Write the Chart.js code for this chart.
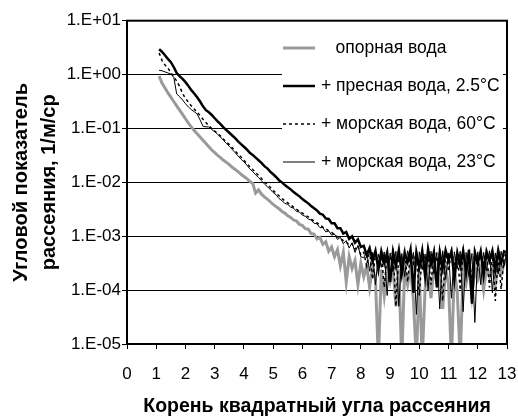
<!DOCTYPE html>
<html>
<head>
<meta charset="utf-8">
<script src="https://cdn.jsdelivr.net/npm/chart.js@4.4.1/dist/chart.umd.min.js"></script>
<style>
    html, body { margin: 0; padding: 0; background: #fff; }
    #chart { display: block; }
</style>
</head>
<body>
<canvas id="chart" width="518" height="418"></canvas>
<script>
// Square root of the scattering angle (x axis)
const sqrtAngle = [
    1.1, 1.2, 1.3, 1.4, 1.5, 1.6, 1.7, 1.8, 1.9, 2.0,
    2.1, 2.2, 2.3, 2.4, 2.5, 2.6, 2.7, 2.8, 2.9, 3.0,
    3.1, 3.2, 3.3, 3.4, 3.5, 3.6, 3.7, 3.8, 3.9, 4.0,
    4.1, 4.2, 4.3, 4.4, 4.5, 4.6, 4.7, 4.8, 4.9, 5.0,
    5.1, 5.2, 5.3, 5.4, 5.5, 5.6, 5.7, 5.8, 5.9, 6.0,
    6.1, 6.2, 6.3, 6.4, 6.5, 6.6, 6.7, 6.8, 6.9, 7.0,
    7.1, 7.2, 7.3, 7.4, 7.5, 7.6, 7.7, 7.8, 7.9, 8.0,
    8.1, 8.2, 8.3, 8.4, 8.5, 8.6, 8.7, 8.8, 8.9, 9.0,
    9.1, 9.2, 9.3, 9.4, 9.5, 9.6, 9.7, 9.8, 9.9, 10.0,
    10.1, 10.2, 10.3, 10.4, 10.5, 10.6, 10.7, 10.8, 10.9, 11.0,
    11.1, 11.2, 11.3, 11.4, 11.5, 11.6, 11.7, 11.8, 11.9, 12.0,
    12.1, 12.2, 12.3, 12.4, 12.5, 12.6, 12.7, 12.8, 12.9, 13.0
];

// Series values as decimal exponents (value = 10^exp)
const refWaterExp = [
    -0.03, -0.16, -0.25, -0.34, -0.42, -0.50, -0.58, -0.66, -0.74, -0.82,
    -0.90, -0.97, -1.04, -1.10, -1.16, -1.22, -1.28, -1.34, -1.40, -1.45,
    -1.50, -1.54, -1.59, -1.63, -1.67, -1.72, -1.76, -1.80, -1.85, -1.89,
    -1.93, -1.98, -2.02, -2.20, -2.14, -2.22, -2.27, -2.31, -2.36, -2.41,
    -2.45, -2.49, -2.54, -2.57, -2.62, -2.65, -2.70, -2.72, -2.78, -2.80,
    -2.86, -2.87, -2.95, -2.96, -3.05, -3.02, -3.15, -3.10, -3.28, -3.20,
    -3.38, -3.25, -3.55, -3.30, -3.85, -3.38, -3.60, -3.45, -3.90, -3.50,
    -3.75, -3.55, -3.95, -3.58, -3.80, -5.30, -3.62, -4.10, -3.60, -3.85,
    -3.58, -4.30, -3.62, -5.30, -3.60, -3.90, -3.58, -4.20, -5.30, -3.70,
    -5.30, -3.95, -3.60, -4.15, -3.58, -3.85, -3.61, -4.35, -3.60, -3.90,
    -5.30, -3.62, -4.05, -5.30, -3.60, -3.88, -3.58, -4.10, -3.62, -3.80,
    -3.60, -4.00, -3.58, -3.75, -3.55, -3.90, -3.50, -3.70, -3.52, -3.40
];
const freshWaterExp = [
    0.47, 0.42, 0.36, 0.29, 0.23, 0.14, 0.03, -0.03, -0.08, -0.14,
    -0.21, -0.29, -0.35, -0.42, -0.50, -0.59, -0.66, -0.70, -0.75, -0.81,
    -0.87, -0.92, -0.98, -1.03, -1.08, -1.13, -1.18, -1.24, -1.29, -1.34,
    -1.39, -1.45, -1.49, -1.54, -1.59, -1.64, -1.70, -1.74, -1.80, -1.85,
    -1.90, -1.96, -2.00, -2.05, -2.09, -2.13, -2.18, -2.22, -2.26, -2.31,
    -2.35, -2.39, -2.44, -2.48, -2.52, -2.58, -2.60, -2.67, -2.68, -2.76,
    -2.76, -2.85, -2.85, -2.95, -2.92, -3.05, -3.00, -3.12, -3.06, -3.20,
    -3.18, -3.35, -3.22, -3.45, -3.27, -3.62, -3.28, -3.50, -3.30, -3.85,
    -3.29, -3.55, -3.26, -3.70, -3.31, -3.48, -3.25, -4.05, -3.30, -3.58,
    -3.27, -3.75, -3.24, -3.52, -3.29, -3.95, -3.30, -3.60, -3.26, -3.45,
    -3.28, -3.80, -3.31, -3.55, -3.27, -3.68, -3.25, -4.25, -3.30, -3.50,
    -3.28, -3.72, -3.29, -3.46, -3.27, -3.62, -3.26, -3.50, -3.28, -3.30
];
const sea60Exp = [
    0.40, 0.26, 0.18, 0.12, 0.04, -0.04, -0.12, -0.22, -0.35, -0.44,
    -0.51, -0.58, -0.64, -0.70, -0.76, -0.83, -0.89, -0.95, -1.00, -1.05,
    -1.09, -1.14, -1.20, -1.25, -1.30, -1.36, -1.42, -1.48, -1.53, -1.59,
    -1.65, -1.71, -1.76, -1.82, -1.87, -1.93, -1.99, -2.04, -2.09, -2.15,
    -2.20, -2.25, -2.30, -2.34, -2.38, -2.42, -2.46, -2.50, -2.54, -2.57,
    -2.61, -2.64, -2.68, -2.72, -2.75, -2.79, -2.83, -2.86, -2.90, -2.93,
    -2.97, -3.01, -3.04, -3.08, -3.11, -3.16, -3.14, -3.24, -3.18, -3.35,
    -3.30, -3.55, -3.27, -3.80, -3.31, -3.50, -3.29, -3.95, -3.32, -3.45,
    -3.28, -4.30, -3.30, -3.60, -3.27, -3.85, -3.31, -3.50, -3.29, -4.10,
    -3.30, -3.55, -3.32, -3.90, -3.28, -3.48, -3.30, -4.20, -3.31, -3.65,
    -3.27, -3.52, -3.30, -4.00, -3.29, -3.58, -3.31, -3.85, -3.28, -3.62,
    -3.30, -3.50, -3.28, -3.95, -3.30, -4.20, -3.35, -3.98, -3.40, -3.28
];
const sea23Exp = [
    0.08, 0.07, 0.05, 0.03, 0.01, -0.05, -0.36, -0.41, -0.47, -0.54,
    -0.60, -0.65, -0.69, -0.73, -0.84, -0.96, -0.97, -0.97, -1.02, -1.06,
    -1.11, -1.16, -1.22, -1.28, -1.33, -1.39, -1.45, -1.51, -1.57, -1.62,
    -1.68, -1.75, -1.80, -1.86, -1.91, -1.97, -2.03, -2.08, -2.13, -2.19,
    -2.23, -2.30, -2.34, -2.39, -2.41, -2.46, -2.48, -2.54, -2.55, -2.61,
    -2.63, -2.68, -2.70, -2.76, -2.77, -2.84, -2.84, -2.92, -2.90, -2.98,
    -2.96, -3.06, -3.02, -3.14, -3.08, -3.22, -3.12, -3.30, -3.17, -3.38,
    -3.40, -3.28, -3.65, -3.30, -3.90, -3.33, -3.58, -3.29, -4.10, -3.31,
    -3.66, -3.28, -4.30, -3.32, -3.75, -3.27, -3.52, -3.30, -4.45, -3.29,
    -3.62, -3.33, -4.00, -3.28, -3.70, -3.30, -4.35, -3.27, -3.80, -3.31,
    -4.15, -3.29, -3.60, -3.28, -4.40, -3.30, -3.75, -3.32, -4.60, -3.29,
    -3.90, -3.30, -3.64, -3.27, -4.05, -3.31, -3.70, -3.28, -3.55, -3.26
];

const seriesLabels = [
    '   опорная вода',
    '+ пресная вода, 2.5°C',
    '+ морская вода, 60°C',
    '+ морская вода, 23°C'
];

// Y axis ticks (decades) and their labels
const yTickValues = [1e-5, 1e-4, 1e-3, 1e-2, 1e-1, 1e0, 1e1];
const yTickLabels = ['1.E-05', '1.E-04', '1.E-03', '1.E-02', '1.E-01', '1.E+00', '1.E+01'];

const xTitle = 'Корень квадратный угла рассеяния';
const yTitle = ['Угловой показатель', 'рассеяния, 1/м/ср'];

function toPoints(exps) {
    return sqrtAngle.map((x, i) => ({ x: x, y: Math.pow(10, exps[i]) }));
}

/**
 * Legend inside the plot area plus the plot frame
 */
const legendAndFrame = {
    id: 'legendAndFrame',
    afterDatasetsDraw(chart) {
        const ctx = chart.ctx;
        const area = chart.chartArea;
        ctx.save();

        // white legend box hides the grid lines behind it
        ctx.fillStyle = '#fff';
        ctx.fillRect(282, 28, area.right - 4 - 282, 150);

        ctx.font = '17.5px "Liberation Sans", Arial, sans-serif';
        ctx.textBaseline = 'middle';
        chart.data.datasets.forEach((ds, i) => {
            const y = 48 + i * 38;
            ctx.beginPath();
            ctx.strokeStyle = ds.borderColor;
            ctx.lineWidth = ds.borderWidth;
            ctx.setLineDash(ds.borderDash || []);
            ctx.moveTo(283, y);
            ctx.lineTo(315, y);
            ctx.stroke();
            ctx.setLineDash([]);
            ctx.fillStyle = '#000';
            ctx.fillText(ds.label, 321, y);
        });

        // plot frame
        ctx.lineWidth = 2;
        ctx.strokeStyle = '#000';
        ctx.strokeRect(area.left, area.top, area.right - area.left, area.bottom - area.top);
        ctx.restore();
    }
};

Chart.defaults.font.family = '"Liberation Sans", Arial, sans-serif';
Chart.defaults.color = '#000';

const ctx = document.getElementById('chart').getContext('2d');
window.scatterChart = new Chart(ctx, {
    type: 'line',
    data: {
        datasets: [
            {
                label: seriesLabels[0],
                data: toPoints(refWaterExp),
                borderColor: '#9a9a9a',
                borderWidth: 3,
                order: 4
            },
            {
                label: seriesLabels[1],
                data: toPoints(freshWaterExp),
                borderColor: '#000',
                borderWidth: 2.5,
                order: 1
            },
            {
                label: seriesLabels[2],
                data: toPoints(sea60Exp),
                borderColor: '#000',
                borderWidth: 1.5,
                borderDash: [3, 3],
                order: 2
            },
            {
                label: seriesLabels[3],
                data: toPoints(sea23Exp),
                borderColor: '#000',
                borderWidth: 1,
                order: 3
            }
        ]
    },
    options: {
        responsive: false,
        animation: false,
        elements: {
            point: { radius: 0 },
            line: { tension: 0, fill: false }
        },
        layout: {
            padding: { left: 0, right: 11, top: 20.7, bottom: 0 }
        },
        plugins: {
            legend: { display: false },
            tooltip: { enabled: false }
        },
        scales: {
            x: {
                type: 'linear',
                min: 0,
                max: 13,
                ticks: {
                    stepSize: 1,
                    padding: 15,
                    font: { size: 17 },
                    color: '#000',
                    maxRotation: 0
                },
                grid: {
                    drawOnChartArea: false,
                    drawTicks: true,
                    tickLength: 5,
                    tickColor: '#000',
                    tickWidth: 1
                },
                border: { display: false },
                title: {
                    display: true,
                    text: xTitle,
                    font: { size: 19.5, weight: 'bold', lineHeight: 1.2 },
                    color: '#000',
                    padding: { top: 0, bottom: 0 }
                },
                afterFit: function(scale) {
                    scale.height = 74;
                    scale.paddingLeft = 0;
                    scale.paddingRight = 0;
                }
            },
            y: {
                type: 'logarithmic',
                min: 1e-5,
                max: 10,
                afterBuildTicks: function(scale) {
                    scale.ticks = yTickValues.map(v => ({ value: v }));
                },
                ticks: {
                    padding: 1,
                    font: { size: 17 },
                    color: '#000',
                    autoSkip: false,
                    callback: function(value) {
                        const idx = yTickValues.findIndex(v => Math.abs(Math.log10(v) - Math.log10(value)) < 1e-6);
                        return idx >= 0 ? yTickLabels[idx] : '';
                    }
                },
                grid: {
                    color: '#000',
                    lineWidth: 1,
                    drawTicks: true,
                    tickLength: 5,
                    tickColor: '#000'
                },
                border: { display: false },
                title: {
                    display: true,
                    text: yTitle,
                    font: { size: 20, weight: 'bold', lineHeight: 1.41 },
                    color: '#000',
                    padding: { top: 7, bottom: 0 }
                },
                afterFit: function(scale) {
                    scale.width = 127;
                    scale.paddingTop = 0;
                    scale.paddingBottom = 0;
                }
            }
        }
    },
    plugins: [legendAndFrame]
});
</script>
</body>
</html>
